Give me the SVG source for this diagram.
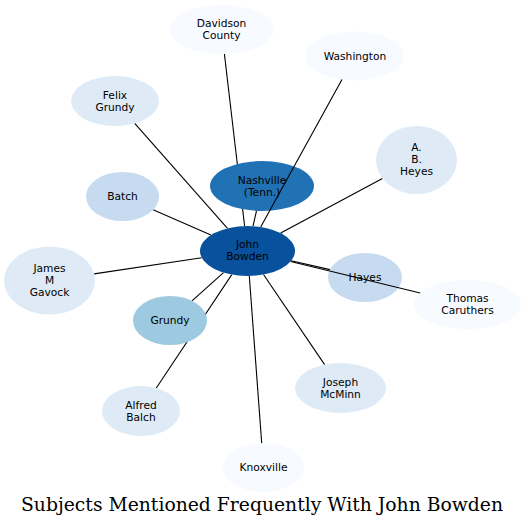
<svg xmlns="http://www.w3.org/2000/svg" width="525" height="527" viewBox="0 0 525 527">
<style>
.n text{font-family:"DejaVu Sans","Noto Sans",sans-serif;font-size:10.67px;fill:#000;text-anchor:middle}
.e line{stroke:#000;stroke-width:1.1;fill:none}
.c0{fill:#08519c}.c1{fill:#2171b5}.c2{fill:#9ecae1}.c3{fill:#c6dbef}.c4{fill:#deebf7}.c5{fill:#f7fbff}
.title{font-family:"DejaVu Serif","Liberation Serif",serif;font-size:18px;fill:#000;text-anchor:middle}
</style>
<rect width="525" height="527" fill="#fff"/>
<g id="connectors-under" class="e">
<line x1="244.6" y1="226" x2="224.4" y2="54"/>
<line x1="253" y1="226.2" x2="256.5" y2="210.9"/>
<line x1="227.5" y1="228.3" x2="134.7" y2="123.3"/>
<line x1="280.7" y1="233.1" x2="382.4" y2="178.4"/>
<line x1="210.9" y1="235.1" x2="153.1" y2="209.8"/>
<line x1="201.8" y1="257.8" x2="94.1" y2="273.9"/>
<line x1="291.2" y1="260.8" x2="330" y2="269.6"/>
<line x1="223.5" y1="272.6" x2="192" y2="300.8"/>
<line x1="231.8" y1="274.6" x2="156.3" y2="388"/>
<line x1="249.3" y1="276" x2="261.7" y2="443"/>
<line x1="263.5" y1="274.5" x2="324.6" y2="364.6"/>
</g>
<g id="node-davidson" class="n"><ellipse class="c5" cx="221.5" cy="29.5" rx="52" ry="24.5"/><text x="221.5" y="27">Davidson</text><text x="221.5" y="39">County</text></g>
<g id="node-washington" class="n"><ellipse class="c5" cx="355" cy="56" rx="49" ry="24.5"/><text x="355" y="59.5">Washington</text></g>
<g id="node-felix" class="n"><ellipse class="c4" cx="115" cy="101" rx="44" ry="25"/><text x="115" y="98.5">Felix</text><text x="115" y="110.5">Grundy</text></g>
<g id="node-abheyes" class="n"><ellipse class="c4" cx="416.5" cy="160" rx="40.5" ry="34"/><text x="416.5" y="151">A.</text><text x="416.5" y="163">B.</text><text x="416.5" y="175">Heyes</text></g>
<g id="node-nashville" class="n"><ellipse class="c1" cx="262" cy="186" rx="52" ry="25"/><text x="262" y="183.5">Nashville</text><text x="262" y="195.5">(Tenn.)</text></g>
<g id="node-batch" class="n"><ellipse class="c3" cx="122.5" cy="196.5" rx="36.5" ry="24.5"/><text x="122.5" y="200">Batch</text></g>
<g id="node-john" class="n"><ellipse class="c0" cx="247.5" cy="251" rx="47.5" ry="25"/><text x="247.5" y="248">John</text><text x="247.5" y="260">Bowden</text></g>
<g id="node-james" class="n"><ellipse class="c4" cx="49.5" cy="280.5" rx="45.5" ry="34"/><text x="49.5" y="271.5">James</text><text x="49.5" y="283.5">M</text><text x="49.5" y="295.5">Gavock</text></g>
<g id="node-hayes" class="n"><ellipse class="c3" cx="365" cy="277.5" rx="37" ry="24.5"/><text x="365" y="281">Hayes</text></g>
<g id="node-thomas" class="n"><ellipse class="c5" cx="467.5" cy="304.5" rx="53.5" ry="24.5"/><text x="467.5" y="302">Thomas</text><text x="467.5" y="314">Caruthers</text></g>
<g id="node-grundy" class="n"><ellipse class="c2" cx="170" cy="320.5" rx="37" ry="24.5"/><text x="170" y="324">Grundy</text></g>
<g id="node-joseph" class="n"><ellipse class="c4" cx="340.5" cy="388" rx="45.5" ry="25"/><text x="340.5" y="385.5">Joseph</text><text x="340.5" y="397.5">McMinn</text></g>
<g id="node-alfred" class="n"><ellipse class="c4" cx="141" cy="411" rx="39" ry="25"/><text x="141" y="408.5">Alfred</text><text x="141" y="420.5">Balch</text></g>
<g id="node-knoxville" class="n"><ellipse class="c5" cx="263.5" cy="467.5" rx="40.5" ry="24.5"/><text x="263.5" y="471">Knoxville</text></g>
<g id="connectors-over" class="e">
<line x1="260.7" y1="227" x2="342" y2="79.6"/>
<line x1="290.6" y1="261.5" x2="420.2" y2="293"/>
</g>
<text class="title" x="262" y="510.5" textLength="482" lengthAdjust="spacingAndGlyphs">Subjects Mentioned Frequently With John Bowden</text>
</svg>
